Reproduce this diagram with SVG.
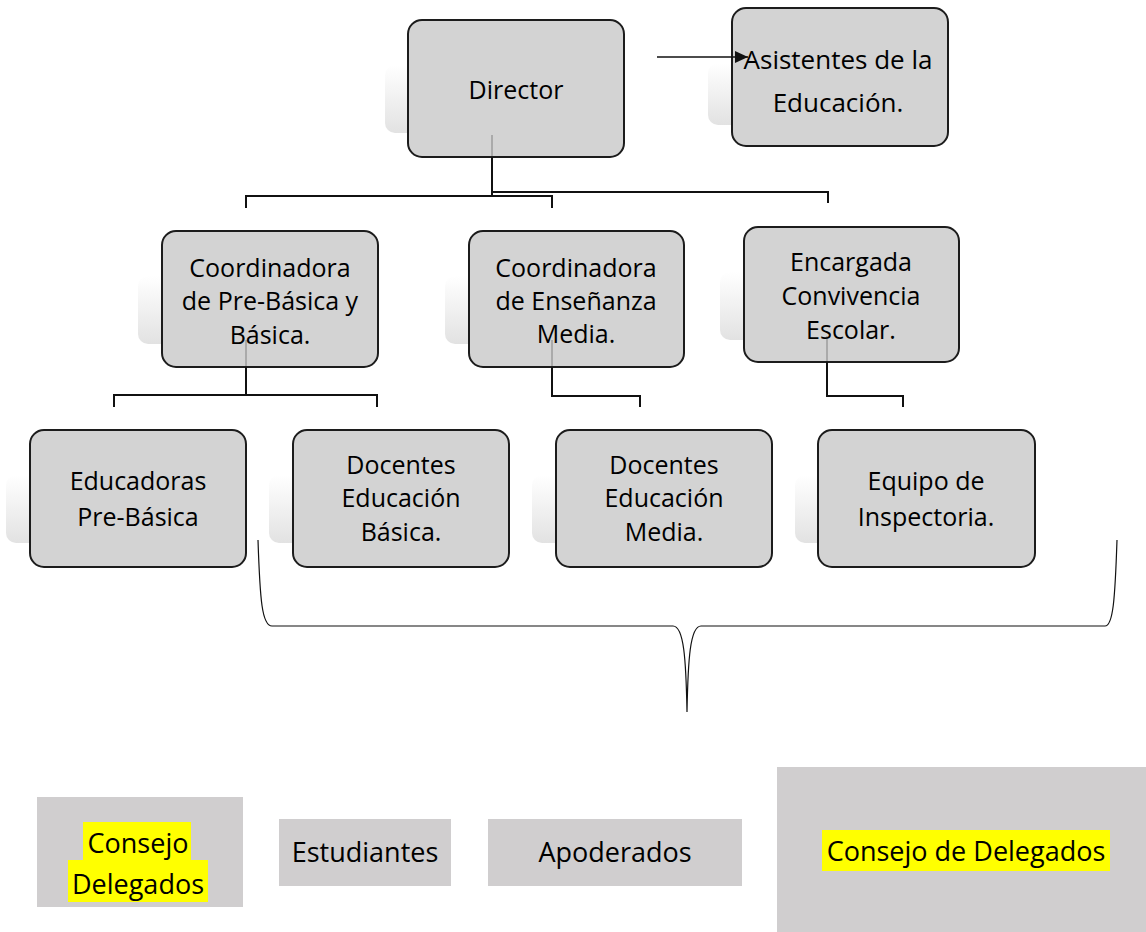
<svg xmlns="http://www.w3.org/2000/svg" width="1146" height="932" viewBox="0 0 1146 932">
<style>
.box{fill:#d3d3d3;stroke:#1c1c1c;stroke-width:2}
.sh{fill:url(#shg)}
.t{font-family:"Open Sans","Noto Sans",sans-serif;font-size:25px;fill:#000;text-anchor:middle}
.tb{font-family:"Open Sans","Noto Sans",sans-serif;font-size:27px;fill:#000;text-anchor:middle}
.con{fill:none;stroke:#111;stroke-width:2}
.ghost{stroke:#aaaaaa;stroke-width:2}
.brace{fill:none;stroke:#111;stroke-width:1.2}
.flat{fill:#d0cecf}
.hl{fill:#ffff00}
</style>
<defs>
<linearGradient id="shg" x1="0" y1="0" x2="0" y2="1">
<stop offset="0" stop-color="#ffffff"/>
<stop offset="1" stop-color="#e2e2e2"/>
</linearGradient>
<marker id="arr" markerWidth="13" markerHeight="12" refX="13" refY="6" orient="auto" markerUnits="userSpaceOnUse">
<path d="M0,0 L13,6 L0,12 Z" fill="#111"/>
</marker>
</defs>

<g id="director">
<rect class="sh" x="385" y="65" width="215" height="68" rx="10"/>
<rect class="box" x="408" y="20" width="216" height="137" rx="14"/>
<line class="ghost" x1="492" y1="135" x2="492" y2="156"/>
<text class="t" x="516" y="99">Director</text>
</g>

<g id="asistentes">
<rect class="sh" x="708" y="63" width="215" height="62" rx="10"/>
<rect class="box" x="732" y="8" width="216" height="138" rx="14"/>
<text class="t" x="838" y="69" style="font-size:26px">Asistentes de la</text>
<text class="t" x="838" y="112" style="font-size:26px">Educación.</text>
</g>

<g id="coord-basica">
<rect class="sh" x="138" y="276" width="215" height="68" rx="10"/>
<rect class="box" x="162" y="231" width="216" height="136" rx="14"/>
<line class="ghost" x1="246" y1="340" x2="246" y2="366"/>
<text class="t" x="270" y="277">Coordinadora</text>
<text class="t" x="270" y="310">de Pre-Básica y</text>
<text class="t" x="270" y="344">Básica.</text>
</g>

<g id="coord-media">
<rect class="sh" x="445" y="276" width="215" height="68" rx="10"/>
<rect class="box" x="469" y="231" width="215" height="136" rx="14"/>
<line class="ghost" x1="552" y1="340" x2="552" y2="366"/>
<text class="t" x="576" y="277">Coordinadora</text>
<text class="t" x="576" y="310">de Enseñanza</text>
<text class="t" x="576" y="343">Media.</text>
</g>

<g id="encargada">
<rect class="sh" x="720" y="272" width="215" height="68" rx="10"/>
<rect class="box" x="744" y="227" width="215" height="135" rx="14"/>
<line class="ghost" x1="827" y1="336" x2="827" y2="361"/>
<text class="t" x="851" y="271">Encargada</text>
<text class="t" x="851" y="305">Convivencia</text>
<text class="t" x="851" y="339">Escolar.</text>
</g>

<g id="educadoras">
<rect class="sh" x="6" y="475" width="215" height="68" rx="10"/>
<rect class="box" x="30" y="430" width="216" height="137" rx="14"/>
<text class="t" x="138" y="490">Educadoras</text>
<text class="t" x="138" y="526">Pre-Básica</text>
</g>

<g id="docentes-basica">
<rect class="sh" x="269" y="475" width="215" height="68" rx="10"/>
<rect class="box" x="293" y="430" width="216" height="137" rx="14"/>
<text class="t" x="401" y="474">Docentes</text>
<text class="t" x="401" y="507">Educación</text>
<text class="t" x="401" y="541">Básica.</text>
</g>

<g id="docentes-media">
<rect class="sh" x="532" y="475" width="215" height="68" rx="10"/>
<rect class="box" x="556" y="430" width="216" height="137" rx="14"/>
<text class="t" x="664" y="474">Docentes</text>
<text class="t" x="664" y="507">Educación</text>
<text class="t" x="664" y="541">Media.</text>
</g>

<g id="inspectoria">
<rect class="sh" x="795" y="475" width="215" height="68" rx="10"/>
<rect class="box" x="818" y="430" width="217" height="137" rx="14"/>
<text class="t" x="926" y="490">Equipo de</text>
<text class="t" x="926" y="526">Inspectoria.</text>
</g>

<g id="connectors">
<line x1="657" y1="57" x2="748" y2="57" stroke="#111" stroke-width="1.5" marker-end="url(#arr)"/>
<path class="con" d="M492,157 V196"/>
<path class="con" d="M492,192 H828 V203"/>
<path class="con" d="M246,208 V196 H552 V208"/>
<path class="con" d="M246,367 V395"/>
<path class="con" d="M114,407 V395 H377 V407"/>
<path class="con" d="M552,367 V396 H640 V407"/>
<path class="con" d="M827,362 V396 H903 V407"/>
<path class="brace" d="M258,540 C260,600 262,626 272,626 H673 C684,626 686,660 687,712 C688,660 690,626 701,626 H1105 C1113,626 1115,600 1117,540"/>
</g>

<g id="consejo-delegados-1">
<rect class="flat" x="37" y="797" width="206" height="110"/>
<rect class="hl" x="83" y="822" width="108" height="38"/>
<rect class="hl" x="68" y="860" width="140" height="42"/>
<text class="tb" x="138" y="853">Consejo</text>
<text class="tb" x="138" y="894">Delegados</text>
</g>

<g id="estudiantes">
<rect class="flat" x="279" y="819" width="172" height="67"/>
<text class="tb" x="365" y="862">Estudiantes</text>
</g>

<g id="apoderados">
<rect class="flat" x="488" y="819" width="254" height="67"/>
<text class="tb" x="615" y="862">Apoderados</text>
</g>

<g id="consejo-delegados-2">
<rect class="flat" x="777" y="767" width="369" height="165"/>
<rect class="hl" x="822" y="830" width="288" height="41"/>
<text class="tb" x="966" y="861">Consejo de Delegados</text>
</g>
</svg>
